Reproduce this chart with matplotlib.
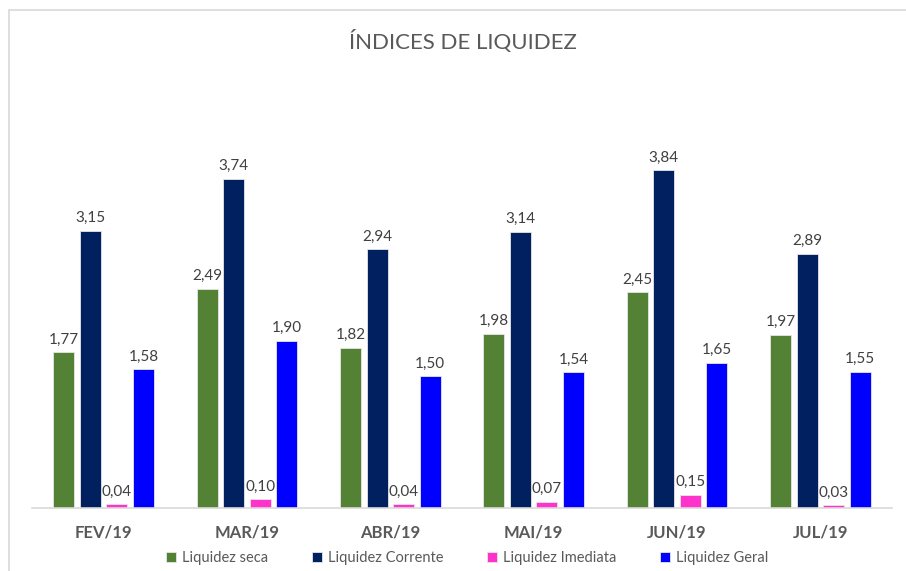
import numpy as np
import matplotlib.pyplot as plt
from matplotlib.patches import Rectangle

plt.rcParams['font.family'] = ['Lato', 'DejaVu Sans']

### DATA
meses = ['FEV/19', 'MAR/19', 'ABR/19', 'MAI/19', 'JUN/19', 'JUL/19']
liq_seca = [1.77, 2.49, 1.82, 1.98, 2.45, 1.97]
liq_corrente = [3.15, 3.74, 2.94, 3.14, 3.84, 2.89]
liq_imediata = [0.04, 0.10, 0.04, 0.07, 0.15, 0.03]
liq_geral = [1.58, 1.90, 1.50, 1.54, 1.65, 1.55]

series = [
    ('Liquidez seca', liq_seca, '#548235'),
    ('Liquidez Corrente', liq_corrente, '#002060'),
    ('Liquidez Imediata', liq_imediata, '#FF33CC'),
    ('Liquidez Geral', liq_geral, '#0000FF'),
]

W, H = 906, 571
fig = plt.figure(figsize=(W / 100, H / 100), dpi=100)

# light frame of the chart area
fig.patches.append(Rectangle((8.5 / W, -0.1), 1.2, 1 - 9.5 / H + 0.1,
                             transform=fig.transFigure, fill=False,
                             edgecolor='#d9d9d9', linewidth=1.2))

ax = fig.add_axes([32 / W, (H - 508) / H, 860 / W, (508 - 112) / H])

x = np.arange(len(meses))
step = 0.185
width = 0.147
for i, (nome, vals, cor) in enumerate(series):
    bars = ax.bar(x + (i - 1.5) * step, vals, width, color=cor,
                  edgecolor='#e6e6e6', linewidth=0.6, label=nome)
    ax.bar_label(bars, labels=[f'{v:.2f}'.replace('.', ',') for v in vals],
                 padding=4, fontsize=11, color='#404040')

ax.set_xlim(-0.5, len(meses) - 0.5)
ax.set_ylim(0, 4.5)
ax.set_yticks([])
ax.set_xticks(x)
ax.set_xticklabels(meses, fontsize=12, fontweight='bold', color='#595959')
ax.tick_params(axis='x', length=0, pad=12)
for s in ['top', 'right', 'left']:
    ax.spines[s].set_visible(False)
ax.spines['bottom'].set_color('#d9d9d9')
ax.spines['bottom'].set_linewidth(1.2)

fig.text(463 / W, 1 - 42 / H, 'ÍNDICES DE LIQUIDEZ', ha='center', va='center',
         fontsize=16, color='#595959')

handles, labels = ax.get_legend_handles_labels()
leg = fig.legend(handles, labels, loc='center', ncol=4,
                 bbox_to_anchor=(467 / W, 1 - 558 / H), frameon=False,
                 fontsize=10.5, handlelength=0.7, handleheight=0.7,
                 handletextpad=0.4, columnspacing=3.0)
for t in leg.get_texts():
    t.set_color('#595959')

fig.savefig('out.png', dpi=100)
